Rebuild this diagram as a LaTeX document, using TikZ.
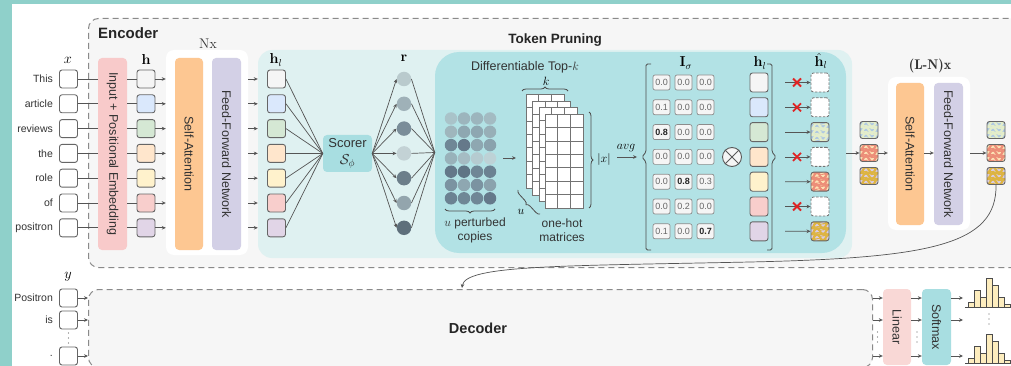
\documentclass[tikz,border=0pt]{standalone}
\usepackage[no-math]{fontspec}
\setmainfont{Liberation Sans}
\usetikzlibrary{arrows.meta,decorations.pathreplacing,calc}
\definecolor{framec}{HTML}{8FD0CA}
\definecolor{encfill}{HTML}{F6F6F6}
\definecolor{dashc}{HTML}{8A8A8A}
\definecolor{pinkc}{HTML}{F8CACA}
\definecolor{orangec}{HTML}{FDC792}
\definecolor{purplec}{HTML}{D3D0E6}
\definecolor{tplight}{HTML}{DFF1F1}
\definecolor{tpdark}{HTML}{B2E2E5}
\definecolor{scorerc}{HTML}{A8DEE1}
\definecolor{c1}{HTML}{F5F5F5}
\definecolor{c2}{HTML}{DAE8FC}
\definecolor{c3}{HTML}{D5E8D4}
\definecolor{c4}{HTML}{FFE6CC}
\definecolor{c5}{HTML}{FFF2CC}
\definecolor{c6}{HTML}{F8CECC}
\definecolor{c7}{HTML}{E1D5E7}
\definecolor{edgec}{HTML}{666666}
\definecolor{linec}{HTML}{555555}
\definecolor{txt}{HTML}{333333}
\definecolor{xred}{HTML}{E02424}
\definecolor{histc}{HTML}{FDEDBE}
\definecolor{wbb}{HTML}{AFC9E2}\definecolor{wbw}{HTML}{E3EDCB}
\definecolor{wob}{HTML}{FDE3B6}\definecolor{wow}{HTML}{EC8E78}
\definecolor{wpb}{HTML}{DACDE6}\definecolor{wpw}{HTML}{DDB443}
\definecolor{r1}{HTML}{B9CACD}\definecolor{r2}{HTML}{9FB1B8}
\definecolor{r3}{HTML}{7A8D99}\definecolor{r4}{HTML}{C3D2D5}
\definecolor{r5}{HTML}{6C7E8A}\definecolor{r6}{HTML}{93A5AD}
\definecolor{r7}{HTML}{5E6F7B}
\newcommand\lmfam{\fontfamily{lmr}\selectfont}
\newcommand\bv[1]{{\color{black!85}\bfseries #1}}
\tikzset{
  tok/.style={draw=edgec, line width=0.9pt, rounded corners=2.5pt, minimum width=18pt, minimum height=18pt, inner sep=0pt, fill=white},
  pruned/.style={tok, dashed, dash pattern=on 2.5pt off 1.5pt, draw=black!55},
  cell/.style={draw=black!45, line width=0.7pt, rounded corners=2pt, minimum width=17pt, minimum height=15pt, inner sep=0pt, fill=c1, font=\fontsize{9}{10}\selectfont, text=black!60},
  arr/.style={draw=linec, line width=0.7pt, -{Stealth[length=4pt,width=3.6pt]}},
  ln/.style={draw=linec, line width=0.7pt},
  word/.style={anchor=east, font=\fontsize{10.5}{12}\selectfont, text=txt, inner sep=0pt},
  vb/.style={rounded corners=4pt, inner sep=0pt},
  vt/.style={rotate=-90, font=\fontsize{12.5}{14}\selectfont, text=txt, inner sep=0pt},
  lab/.style={font=\fontsize{12}{14}\selectfont, text=txt, align=center, inner sep=0pt},
  mlab/.style={font=\fontsize{14.4}{16}\selectfont, inner sep=0pt},
  rc/.style={circle, minimum size=14.5pt, inner sep=0pt},
  gc/.style={circle, minimum size=12.5pt, inner sep=0pt},
  encbox/.style={draw=dashc, dash pattern=on 6pt off 4pt, line width=1pt, fill=encfill, rounded corners=10pt, inner sep=0pt, anchor=north west},
  sheet/.style={draw=black!55, line width=0.7pt, fill=white, minimum width=38pt, minimum height=94pt, inner sep=0pt, anchor=north west},
  brc/.style={draw=black!70, line width=0.8pt, decorate, decoration={brace, amplitude=4pt}},
  brk/.style={draw=black!70, line width=0.8pt, rounded corners=1.5pt},
  histbar/.style={draw=black!70, line width=0.6pt, fill=histc},
  wavy/.style n args={2}{fill=#1, path picture={
    \begin{scope}[shift={(path picture bounding box.center)}, rotate=40]
      \foreach \o in {-6,0,6} \draw[#2, line width=1.7pt] plot[domain=-15:15, samples=40, smooth] (\x,{\o+2.4*sin(\x*30)});
    \end{scope}}},
  xmark/.style={draw=xred, line width=1.8pt},
}
\begin{document}
\begin{tikzpicture}[x=1pt,y=-1pt]
\useasboundingbox (0,0) rectangle (1011,366);
\clip (0,0) rectangle (1011,366);
\fill[white] (0,0) rectangle (1011,366);
\fill[framec] (0,0) rectangle (12,366);
\fill[framec] (0,0) rectangle (1011,4);

% ---------- big containers
\node[encbox, minimum width=950pt, minimum height=249pt] (enc) at (88,18) {};
\node[encbox, minimum width=784pt, minimum height=78pt] (dec) at (88,289) {};
\node[anchor=west, font=\fontsize{15}{17}\selectfont\bfseries, text=black!85, inner sep=0pt] (enct) at (98,33) {Encoder};
\node[font=\fontsize{13.5}{16}\selectfont\bfseries, text=black!85, inner sep=0pt] (tpt) at (555,40) {Token Pruning};
\node[font=\fontsize{14.5}{16}\selectfont\bfseries, text=black!85, inner sep=0pt] (dect) at (478,328) {Decoder};

\node[fill=white, rounded corners=8pt, minimum width=82pt, minimum height=205pt, inner sep=0pt] (nx) at (207,152.5) {};
\node[font=\fontsize{14}{16}\selectfont, text=txt, inner sep=0pt] (nxt) at (208,44) {\lmfam Nx};
\node[fill=tplight, rounded corners=14pt, minimum width=594pt, minimum height=208pt, inner sep=0pt] (tp) at (555,154) {};
\node[fill=tpdark, rounded corners=24pt, minimum width=411pt, minimum height=201pt, inner sep=0pt] (tk) at (640.5,152.5) {};
\node[fill=white, rounded corners=8pt, minimum width=82pt, minimum height=153pt, inner sep=0pt] (lnb) at (929,153.5) {};
\node[font=\fontsize{14}{16}\selectfont, text=txt, inner sep=0pt] (lnt) at (930,66) {\lmfam\bfseries (L-N)x};

% ---------- vertical blocks
\node[vb, fill=pinkc, minimum width=29pt, minimum height=192pt] (emb) at (112.5,154) {};
\node[vt] (embt) at (emb) {Input + Positional Embedding};
\node[vb, fill=orangec, minimum width=28pt, minimum height=192pt] (sa) at (189,154) {};
\node[vt] (sat) at (sa) {Self-Attention};
\node[vb, fill=purplec, minimum width=29pt, minimum height=192pt] (ffn) at (226.5,154) {};
\node[vt] (ffnt) at (ffn) {Feed-Forward Network};
\node[vb, fill=orangec, minimum width=28pt, minimum height=142pt] (sa2) at (910,154) {};
\node[vt] (sa2t) at (sa2) {Self-Attention};
\node[vb, fill=purplec, minimum width=29pt, minimum height=142pt] (ffn2) at (948.5,154) {};
\node[vt] (ffn2t) at (ffn2) {Feed-Forward Network};
\node[vb, fill=c6!80!white, minimum width=28pt, minimum height=76pt] (lin) at (897,327) {};
\node[vt] (lint) at (lin) {Linear};
\node[vb, fill=scorerc, minimum width=29pt, minimum height=76pt] (smx) at (936.5,327) {};
\node[vt] (smxt) at (smx) {Softmax};

% ---------- labels
\node[mlab] (lx) at (68,60) {$x$};
\node[mlab] (lh) at (146,60) {$\mathbf{h}$};
\node[mlab] (lhl) at (276,60) {$\mathbf{h}_l$};
\node[mlab] (lr) at (404,58) {$\mathbf{r}$};
\node[mlab] (lI) at (686,63) {$\mathbf{I}_\sigma$};
\node[mlab] (lhl2) at (760,63) {$\mathbf{h}_l$};
\node[mlab] (lhh) at (821,61) {$\hat{\mathbf{h}}_l$};
\node[mlab] (ly) at (68,277) {$y$};

% ---------- encoder token rows
\foreach \i/\w/\c/\rc in {1/This/c1/r1,2/article/c2/r2,3/reviews/c3/r3,4/the/c4/r4,5/role/c5/r5,6/of/c6/r6,7/positron/c7/r7}{
  \pgfmathsetmacro\yy{79+24.8*(\i-1)}
  \node[tok] (x\i) at (68.5,\yy) {};
  \node[word] (w\i) at ([xshift=-6pt]x\i.west) {\w};
  \node[tok, fill=\c] (h\i) at (146,\yy) {};
  \node[tok, fill=\c] (hl\i) at (276.5,\yy) {};
  \node[rc, fill=\rc] (r\i) at (404,\yy) {};
  \draw[ln] (x\i.east) -- (x\i.east -| emb.west);
  \draw[ln] (h\i.west -| emb.east) -- (h\i.west);
  \draw[arr] (h\i.east) -- (h\i.east -| nx.west);
  \draw[arr] (h\i.east -| nx.east) -- (hl\i.west -| tp.west);
}

% ---------- scorer
\node[fill=scorerc, rounded corners=4pt, minimum width=49pt, minimum height=37pt, inner sep=0pt, align=center, font=\fontsize{13}{14}\selectfont, text=txt] (sc) at (347.5,153.5) {Scorer\\[3pt] {\fontsize{14.4}{16}\selectfont$\mathcal{S}_\phi$}};
\foreach \i in {1,...,7}{
  \draw[ln] (hl\i.east) -- (sc.west);
  \draw[arr] (sc.east) -- (r\i.west);
  \draw[ln] (r\i.east) -- (tk.west);
}

% ---------- differentiable top-k
\node[lab, font=\fontsize{12.5}{14}\selectfont] (dtk) at (525,67) {Differentiable Top-$k$};
\foreach \j/\cola/\colb/\colc/\cold in {
  1/A9C3C9/9CB5BD/9CB5BD/A3BBC2,
  2/9FB6BD/8EA7B1/8EA7B1/97AFB7,
  3/6F8796/65798A/8EA7B1/8AA2AD,
  4/98B2BA/A5BCC3/B5CBD0/BDD2D6,
  5/637889/5F7585/6F8796/6B8292,
  6/7B93A1/8EA7B1/7B93A1/8AA2AD,
  7/6B8292/6F8796/6F8796/65798A}{
  \pgfmathsetmacro\gy{118.5+13.3*(\j-1)}
  \definecolor{gca}{HTML}{\cola}\definecolor{gcb}{HTML}{\colb}
  \definecolor{gcc}{HTML}{\colc}\definecolor{gcd}{HTML}{\cold}
  \node[gc, fill=gca] (g\j a) at (451,\gy) {};
  \node[gc, fill=gcb] (g\j b) at (464,\gy) {};
  \node[gc, fill=gcc] (g\j c) at (477,\gy) {};
  \node[gc, fill=gcd] (g\j d) at (490,\gy) {};
}
\draw[brc] (495,209) -- (445,209);
\node[lab] (upc) at (475,230) {$u$ perturbed\\copies};
\coordinate (ga) at (503,158);
\coordinate (gb) at (516,158);
\draw[arr] (ga) -- (gb);
\foreach \s in {0,1,2,3}{
  \node[sheet] (oh\s) at ({526+6.33*\s},{94+6.67*\s}) {};
  \foreach \c in {1,2} \draw[draw=black!55, line width=0.6pt] ($(oh\s.north west)+(\c*12.67,0)$) -- ($(oh\s.south west)+(\c*12.67,0)$);
  \foreach \r in {1,...,6} \draw[draw=black!55, line width=0.6pt] ($(oh\s.north west)+(0,\r*13.43)$) -- ($(oh\s.north east)+(0,\r*13.43)$);
}
\draw[brc] (522,91) -- (568,91);
\node[mlab, font=\fontsize{12}{14}\selectfont] (lk) at (546,81) {$k$};
\draw[brc] (540,214) -- (518,190);
\node[mlab, font=\fontsize{12}{14}\selectfont] (lu) at (521,212) {$u$};
\draw[brc] (589,112) -- (589,208);
\node[mlab, font=\fontsize{12}{14}\selectfont] (lxx) at (604,160) {$|x|$};
\node[lab] (ohl) at (562,230) {one-hot\\matrices};
\coordinate (va) at (617,157);
\coordinate (vb) at (637,157);
\draw[arr] (va) -- (vb);
\node[mlab, font=\fontsize{12}{14}\selectfont] (lavg) at (626,148) {$avg$};

% ---------- I_sigma and pruning
\draw[brk] (651,64) -- (646,64) -- (646,152) -- (642,157) -- (646,162) -- (646,250) -- (651,250);
\draw[brk] (767,64) -- (772,64) -- (772,152) -- (776,157) -- (772,162) -- (772,250) -- (767,250);
\foreach \i/\a/\b/\c/\cc in {
  1/0.0/0.0/0.0/c1, 2/0.1/0.0/0.0/c2, 3/\bv{0.8}/0.0/0.0/c3,
  4/0.0/0.0/0.0/c4, 5/0.0/\bv{0.8}/0.3/c5, 6/0.0/0.2/0.0/c6,
  7/0.1/0.0/\bv{0.7}/c7}{
  \pgfmathsetmacro\yr{82.5+24.8*(\i-1)}
  \node[cell] (m\i a) at (661.5,\yr) {\a};
  \node[cell] (m\i b) at (683.5,\yr) {\b};
  \node[cell] (m\i c) at (705.5,\yr) {\c};
  \node[tok, fill=\cc, minimum height=19pt] (hr\i) at (759,\yr) {};
  \coordinate (os\i) at (785,\yr);
}
\node[circle, draw=black!65, line width=0.9pt, fill=c1, minimum size=19pt, inner sep=0pt] (ot) at (732,157) {};
\draw[black!65, line width=0.9pt] (ot.north east) -- (ot.south west) (ot.north west) -- (ot.south east);

\foreach \i in {1,2,4,6}{
  \pgfmathsetmacro\yr{82.5+24.8*(\i-1)}
  \node[pruned, minimum height=19pt] (out\i) at (820,\yr) {};
  \draw[arr] (os\i) -- (out\i.west);
  \draw[xmark] (793,\yr-4) -- (801,\yr+4) (793,\yr+4) -- (801,\yr-4);
}
\node[tok, minimum height=19pt, wavy={wbb}{wbw}] (out3) at (820,132.1) {};
\node[tok, minimum height=19pt, wavy={wob}{wow}] (out5) at (820,181.7) {};
\node[tok, minimum height=19pt, wavy={wpb}{wpw}] (out7) at (820,231.3) {};
\foreach \i in {3,5,7} \draw[arr] (os\i) -- (out\i.west);

% ---------- remaining layers
\node[tok, minimum height=17pt, wavy={wbb}{wbw}] (s1) at (869,130) {};
\node[tok, minimum height=17pt, wavy={wob}{wow}] (s2) at (869,153) {};
\node[tok, minimum height=17pt, wavy={wpb}{wpw}] (s3) at (869,176) {};
\node[tok, minimum height=17pt, wavy={wbb}{wbw}] (o1) at (996,130) {};
\node[tok, minimum height=17pt, wavy={wob}{wow}] (o2) at (996,153) {};
\node[tok, minimum height=17pt, wavy={wpb}{wpw}] (o3) at (996,176) {};
\draw[arr] (tk.east |- s2) -- (s2.west);
\draw[arr] (s2.east) -- (lnb.west |- s2);
\draw[arr] (sa2.east |- s2) -- (ffn2.west |- s2);
\draw[arr] (lnb.east |- o2) -- (o2.west);

% ---------- decoder side
\foreach \i/\w/\yy in {1/Positron/298, 2/is/320, 3/./356}{
  \node[tok] (d\i) at (68.5,\yy) {};
  \node[word] (dw\i) at ([xshift=-6pt]d\i.west) {\w};
  \draw[arr] (d\i.east) -- (d\i.east -| dec.west);
  \draw[arr] (dec.east |- d\i) -- (lin.west |- d\i);
  \draw[arr] (lin.east |- d\i) -- (smx.west |- d\i);
  \coordinate (he\i) at (963,\yy);
  \draw[arr] (smx.east |- d\i) -- (he\i);
}
\foreach \d in {0,1,2}{
  \fill[black!60] (68.5,333+5*\d) circle (0.7pt);
  \fill[black!60] (877.5,332+5*\d) circle (0.7pt);
  \fill[black!60] (917,332+5*\d) circle (0.7pt);
  \fill[black!60] (989,314+5*\d) circle (0.7pt);
}
\foreach \by in {307,363}{
  \foreach \k/\hh in {0/5,1/17,2/10,3/29,4/22,5/10,6/3}{
    \draw[histbar] (968+6*\k,\by) rectangle ++(6,-\hh);
  }
  \draw[black!70, line width=0.7pt] (965,\by) -- (1011,\by);
}

% ---------- encoder output to decoder
\coordinate (dtop) at (462,288);
\draw[arr] (o3.south) .. controls (997,245) and (930,258) .. (750,262) .. controls (560,266) and (465,265) .. (dtop);
\end{tikzpicture}
\end{document}
